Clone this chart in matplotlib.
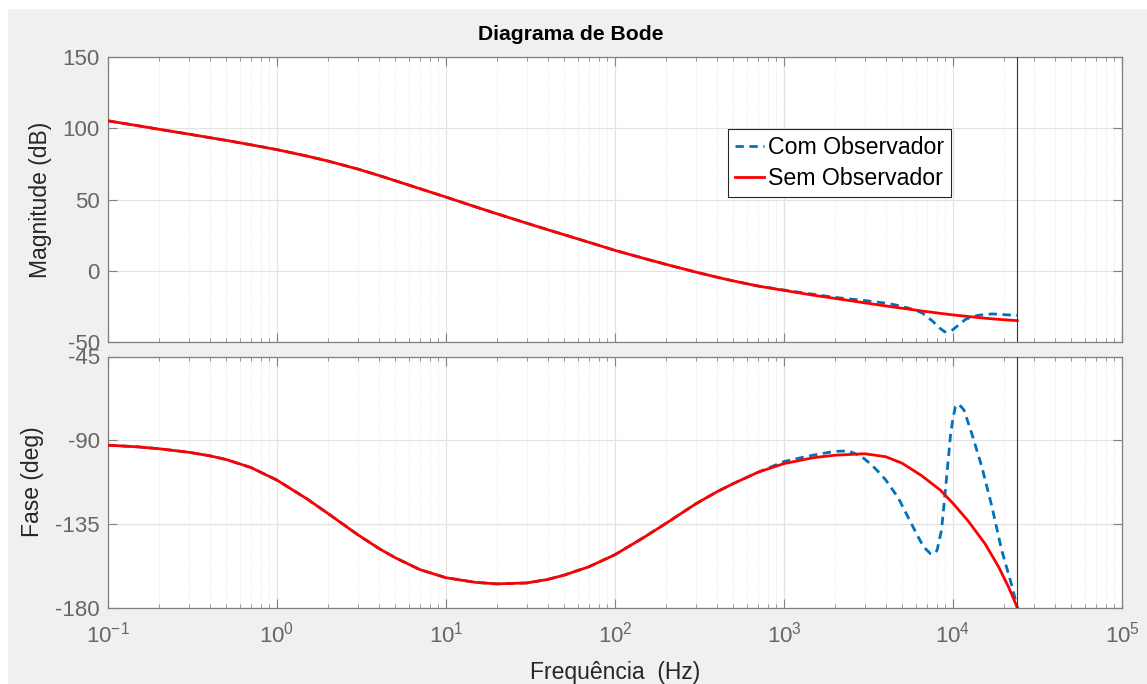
import matplotlib
matplotlib.use('Agg')
import matplotlib.pyplot as plt
from matplotlib.patches import Rectangle
from matplotlib.ticker import FixedLocator, NullFormatter, LogFormatterMathtext

plt.rcParams['font.family'] = ['Liberation Sans', 'DejaVu Sans']
plt.rcParams['axes.unicode_minus'] = False
plt.rcParams['mathtext.fontset'] = 'custom'
plt.rcParams['mathtext.rm'] = 'Liberation Sans'
plt.rcParams['mathtext.it'] = 'Liberation Sans:italic'
plt.rcParams['mathtext.bf'] = 'Liberation Sans:bold'

freq_sem = [0.1, 0.15, 0.2, 0.3, 0.4, 0.5, 0.7, 1,
            1.5, 2, 3, 4, 5, 7, 10,
            15, 20, 30, 40, 50, 70, 100,
            150, 200, 300, 400, 500, 700, 1000,
            1500, 2000, 3000, 4000, 5000, 6500, 8400,
            10000, 12300, 15500, 18600, 21300, 24000]
mag_sem = [105.2, 101.8, 99.3, 95.9, 93.4, 91.5, 88.4, 85.0,
           80.5, 77.0, 71.4, 66.9, 63.2, 57.6, 51.7,
           44.8, 40.0, 33.4, 28.8, 25.3, 20.0, 14.3,
           8.5, 4.5, -0.9, -4.5, -7.1, -10.7, -13.8,
           -17.2, -19.4, -22.5, -24.7, -26.3, -28.2, -29.9,
           -31.0, -32.1, -33.3, -34.1, -34.6, -35.0]
fase_sem = [-92.7, -93.6, -94.6, -96.5, -98.4, -100.4, -104.7, -111.5,
            -121.5, -129.4, -140.8, -148.2, -153.2, -159.6, -164.0,
            -166.5, -167.3, -166.8, -164.9, -162.6, -158.1, -151.6,
            -142.0, -134.8, -124.3, -117.8, -113.4, -107.3, -102.6,
            -99.4, -98.1, -97.3, -98.9, -102.4, -109.0, -116.8,
            -124.0, -133.5, -145.8, -158.1, -168.9, -180.0]

# com observador: coincide com o sem observador ate ~700 Hz
freq_com_mag = freq_sem[:28] + [1000, 1500, 2000, 3000, 4170, 5000, 6000, 6560,
                                7510, 8400, 8950, 9500, 10000, 10800, 11800,
                                13000, 14200, 17000, 21300, 24000]
mag_com = mag_sem[:28] + [-13.5, -16.6, -18.7, -20.9, -23.0, -25.0, -27.6, -29.6,
                          -35.0, -40.5, -42.9, -42.6, -41.3, -38.0, -34.3,
                          -32.2, -31.2, -30.3, -31.0, -31.2]
freq_com_fase = freq_sem[:28] + [1000, 1400, 2000, 2420, 2880, 3300, 3610, 4000,
                                 4740, 5730, 6220, 6700, 7350, 7700, 8050, 8550,
                                 9020, 9650, 10000, 10340, 10800, 11600, 12900,
                                 14800, 17000, 19400, 22400, 24000]
fase_com = fase_sem[:28] + [-101.5, -98.5, -96.0, -95.8, -98.8, -103.3, -106.9,
                            -111.4, -121.0, -135.7, -142.0, -147.4, -151.0, -151.2,
                            -149.2, -138.4, -116.8, -88.0, -78.0, -72.0, -70.6,
                            -73.7, -86.3, -104.2, -125.8, -149.1, -168.9, -180.0]

f_nyquist = 24000
decadas = [0.1, 1, 10, 100, 1000, 10000, 100000]
mag_ticks = [-50, 0, 50, 100, 150]
fase_ticks = [-180, -135, -90, -45]

W, H = 1147, 684
fig = plt.figure(figsize=(W / 100, H / 100), dpi=100, facecolor='white')
fig.patches.append(Rectangle((8 / W, 0), 1, 1 - 9 / H, transform=fig.transFigure,
                             facecolor='#f0f0f0', edgecolor='none', zorder=-1))

ax1 = fig.add_axes([108 / W, 1 - 342 / H, 1014 / W, 285 / H])
ax2 = fig.add_axes([108 / W, 1 - 607.5 / H, 1014 / W, 251 / H])

menores = [d * k for d in decadas[:-1] for k in range(2, 10)]


def estilo(ax, ticks, lim):
    ax.set_xscale('log')
    ax.set_xlim(0.1, 1e5)
    ax.set_ylim(*lim)
    ax.set_yticks(ticks)
    ax.xaxis.set_major_locator(FixedLocator(decadas))
    ax.xaxis.set_minor_locator(FixedLocator(menores))
    ax.xaxis.set_minor_formatter(NullFormatter())
    ax.set_facecolor('white')
    for s in ax.spines.values():
        s.set_color('#808080')
        s.set_linewidth(0.9)
    ax.tick_params(which='both', direction='in', top=True, right=True,
                   colors='#808080', labelcolor='#666666', labelsize=16)
    ax.tick_params(which='major', length=6.5, width=0.8)
    ax.tick_params(which='minor', length=3.2, width=0.6)
    ax.tick_params(axis='y', pad=6)
    ax.tick_params(axis='x', pad=10)
    ax.grid(True, which='major', color='#e3e3e3', lw=0.9)
    ax.grid(True, which='minor', axis='x', color='#dedede', lw=0.6, ls=':')
    ax.set_axisbelow(True)
    ax.axvline(f_nyquist, color='#333333', lw=0.8, zorder=4)


estilo(ax1, mag_ticks, (-50, 150))
estilo(ax2, fase_ticks, (-180, -45))
ax1.xaxis.set_major_formatter(NullFormatter())
ax2.xaxis.set_major_formatter(LogFormatterMathtext())

azul = '#0072BD'
l1, = ax1.plot(freq_com_mag, mag_com, color=azul, lw=2, ls=(0, (3, 2)),
               label='Com Observador', zorder=3)
l2, = ax1.plot(freq_sem, mag_sem, color='#ff0000', lw=2, label='Sem Observador', zorder=3)
ax2.plot(freq_com_fase, fase_com, color=azul, lw=2, ls=(0, (3, 2)), zorder=3)
ax2.plot(freq_sem, fase_sem, color='#ff0000', lw=2, zorder=3)

leg = ax1.legend(handles=[l1, l2], loc='upper left',
                 bbox_to_anchor=((727.7 - 108) / 1014, (342 - 129.3) / 285),
                 borderaxespad=0, fontsize=16.7, frameon=True, fancybox=False,
                 handlelength=1.25, handletextpad=0.2, labelspacing=0.32,
                 borderpad=0.3)
leg.get_frame().set_edgecolor('#262626')
leg.get_frame().set_linewidth(0.8)
leg.get_frame().set_alpha(1)

ax1.set_ylabel('Magnitude (dB)', fontsize=16.5, color='#262626')
ax1.yaxis.set_label_coords((52.5 - 108) / 1014, 0.5)
ax2.set_ylabel('Fase (deg)', fontsize=16.5, color='#262626')
ax2.yaxis.set_label_coords((44 - 108) / 1014, 0.5)

fig.text(570.7 / W, 1 - 35 / H, 'Diagrama de Bode', ha='center', va='center',
         fontsize=15.2, fontweight='bold', color='black')
fig.text(615 / W, 1 - 672 / H, 'Frequência  (Hz)', ha='center', va='center',
         fontsize=16.5, color='#262626')

fig.savefig('out.png', dpi=100, facecolor=fig.get_facecolor())
